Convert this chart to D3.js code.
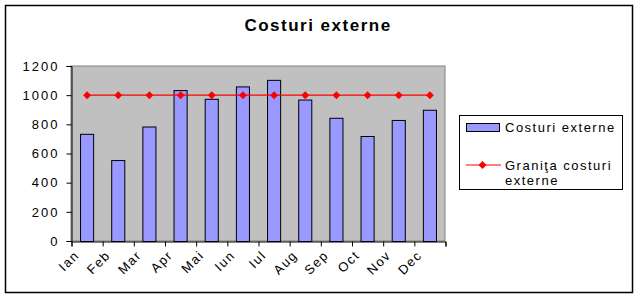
<!DOCTYPE html>
<html lang="ro">
<head>
  <meta charset="UTF-8">
  <title>Costuri externe</title>
  <script src="https://d3js.org/d3.v7.min.js"></script>
  <style>
    body { margin: 0; background: #fff; }
    text { font-family: Arial, "Liberation Sans", sans-serif; letter-spacing: 1.5px; }
  </style>
</head>
<body>
  <svg id="svg1"></svg>
  <script>
    const months = ["Ian", "Feb", "Mar", "Apr", "Mai", "Iun", "Iul", "Aug", "Sep", "Oct", "Nov", "Dec"];
    const costs = [735, 555, 785, 1035, 975, 1060, 1105, 970, 845, 720, 830, 900];
    const limit = [1000, 1000, 1000, 1000, 1000, 1000, 1000, 1000, 1000, 1000, 1000, 1000];
    const yTicks = [0, 200, 400, 600, 800, 1000, 1200];
    const seriesNames = ["Costuri externe", "Graniţa costuri", "externe"];

    const width = 636, height = 299;
    const plot = {left: 71, right: 445, top: 66, bottom: 241};

    const svg = d3.select('#svg1')
      .attr('width', width)
      .attr('height', height);

    // outer frame
    svg.append('rect')
      .attr('x', 5.5).attr('y', 5.5)
      .attr('width', 627).attr('height', 287)
      .attr('fill', '#fff')
      .attr('stroke', '#000')
      .attr('stroke-width', 1.5);

    svg.append('text')
      .attr('x', 318).attr('y', 31)
      .attr('text-anchor', 'middle')
      .attr('font-size', 17)
      .attr('font-weight', 'bold')
      .text('Costuri externe');

    const xScale = d3.scaleBand()
      .domain(months)
      .range([plot.left, plot.right])
      .paddingInner(0.58)
      .paddingOuter(0.29);

    const xEdge = d3.scaleLinear()
      .domain([0, months.length])
      .range([plot.left, plot.right]);

    const yScale = d3.scaleLinear()
      .domain([0, 1200])
      .range([plot.bottom, plot.top]);

    // plot area
    svg.append('rect')
      .attr('x', plot.left).attr('y', plot.top)
      .attr('width', plot.right - plot.left)
      .attr('height', plot.bottom - plot.top)
      .attr('fill', '#C0C0C0')
      .attr('stroke', '#808080')
      .attr('stroke-width', 1);

    svg.append('g')
      .selectAll('rect')
      .data(costs)
      .enter()
      .append('rect')
      .attr('x', (d, i) => xScale(months[i]) + 0.5)
      .attr('y', d => yScale(d) + 0.5)
      .attr('width', xScale.bandwidth())
      .attr('height', d => plot.bottom - yScale(d))
      .attr('fill', '#9999FF')
      .attr('stroke', '#000')
      .attr('stroke-width', 1);

    const cx = (d, i) => xScale(months[i]) + xScale.bandwidth() / 2 + 0.5;

    svg.append('path')
      .datum(limit)
      .attr('fill', 'none')
      .attr('stroke', '#FF0000')
      .attr('stroke-width', 1.2)
      .attr('d', d3.line().x(cx).y(d => yScale(d)));

    const diamond = d3.symbol().type(d3.symbolDiamond2).size(40);
    svg.append('g')
      .selectAll('path')
      .data(limit)
      .enter()
      .append('path')
      .attr('d', diamond)
      .attr('transform', (d, i) => `translate(${cx(d, i)}, ${yScale(d)})`)
      .attr('fill', '#FF0000');

    // y axis
    const leftAxis = d3.axisLeft(yScale)
      .tickValues(yTicks)
      .tickFormat(d3.format('d'))
      .tickSize(5)
      .tickPadding(7);
    const gy = svg.append('g')
      .attr('transform', `translate(${plot.left + 0.5}, 0)`)
      .call(leftAxis);
    gy.selectAll('text').attr('font-size', 13).attr('fill', '#000')
      .attr('font-family', null).style('letter-spacing', '2px');
    gy.select('.domain').attr('stroke', '#000');

    // x axis: ticks on category boundaries
    const bottomAxis = d3.axisBottom(xEdge)
      .tickValues(d3.range(months.length + 1))
      .tickSize(5)
      .tickFormat('');
    svg.append('g')
      .attr('transform', `translate(0.5, ${plot.bottom + 0.5})`)
      .call(bottomAxis);

    svg.append('g')
      .selectAll('text')
      .data(months)
      .enter()
      .append('text')
      .attr('transform', (d, i) => `translate(${cx(d, i) - 7}, ${plot.bottom + 15}) rotate(-45)`)
      .attr('text-anchor', 'end')
      .attr('font-size', 13)
      .text(d => d);

    // legend
    const lg = svg.append('g');
    lg.append('rect')
      .attr('x', 459.5).attr('y', 115.5)
      .attr('width', 163).attr('height', 74)
      .attr('fill', '#fff')
      .attr('stroke', '#000');
    lg.append('rect')
      .attr('x', 466.5).attr('y', 123.5)
      .attr('width', 33).attr('height', 8)
      .attr('fill', '#9999FF')
      .attr('stroke', '#000');
    lg.append('text')
      .attr('x', 505).attr('y', 132)
      .attr('font-size', 13)
      .text(seriesNames[0]);
    lg.append('line')
      .attr('x1', 466).attr('x2', 501)
      .attr('y1', 165).attr('y2', 165)
      .attr('stroke', '#FF0000')
      .attr('stroke-width', 1.2);
    lg.append('path')
      .attr('d', diamond)
      .attr('transform', 'translate(482.5, 165)')
      .attr('fill', '#FF0000');
    lg.append('text')
      .attr('x', 505).attr('y', 170)
      .attr('font-size', 13)
      .text(seriesNames[1]);
    lg.append('text')
      .attr('x', 505).attr('y', 185)
      .attr('font-size', 13)
      .text(seriesNames[2]);
  </script>
</body>
</html>
